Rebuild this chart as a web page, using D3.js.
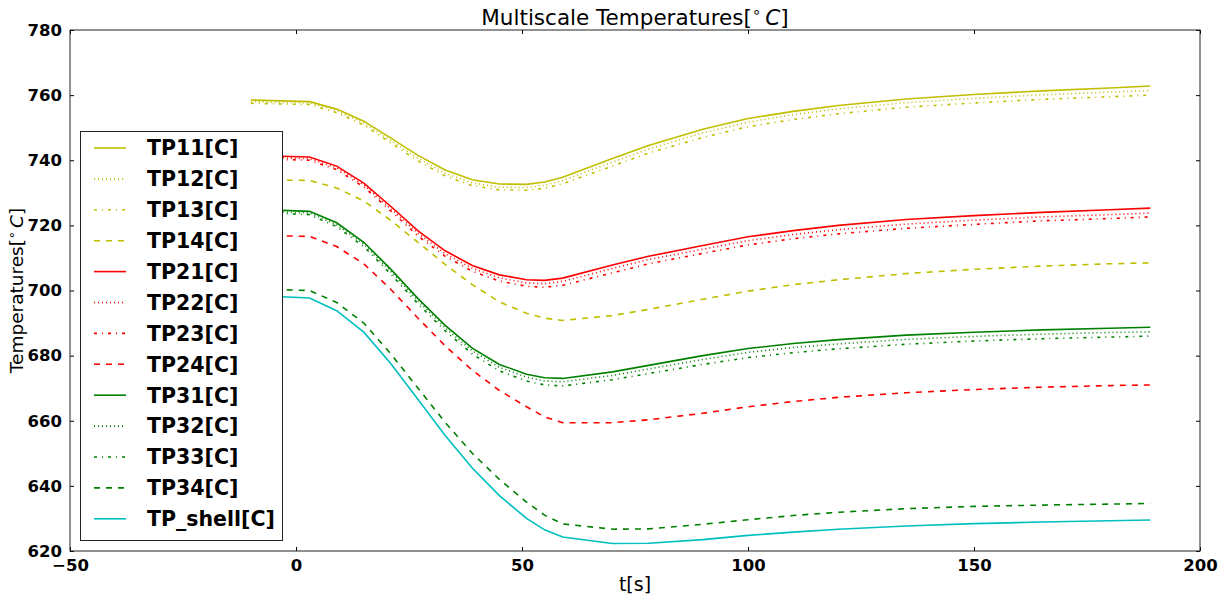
<!DOCTYPE html>
<html>
<head>
<meta charset="utf-8">
<script src="https://cdn.jsdelivr.net/npm/d3@7"></script>
<style>
  html, body { margin: 0; padding: 0; background: #fff; }
  svg { display: block; font-family: "DejaVu Sans", sans-serif; }
</style>
</head>
<body>
<svg id="chart" width="1226" height="597"></svg>
<script>
const times = [-10, 3, 9, 15, 21, 27, 33, 39, 45, 51, 55, 59, 70, 78, 90, 100, 110, 120, 135, 150, 165, 180, 189];

const TP11 = [758.5, 758, 755.7, 752, 746.8, 741.5, 737, 734, 732.7, 732.6, 733.3, 734.8, 740.5, 744.5, 749.5, 752.8, 755, 756.8, 758.8, 760.2, 761.3, 762.2, 762.8];
const TP12 = [758, 757.6, 755.2, 751.4, 746, 740.6, 736, 733, 731.7, 731.6, 732.3, 733.8, 739.4, 743.4, 748.4, 751.7, 754, 755.8, 757.7, 759, 760.1, 760.9, 761.4];
const TP13 = [757.5, 757.1, 754.6, 750.8, 745.3, 739.8, 735.2, 732.2, 730.9, 730.8, 731.4, 732.8, 738.2, 742.2, 747, 750.3, 752.5, 754.3, 756.3, 757.6, 758.7, 759.5, 760];
const TP14 = [734, 733.8, 731.5, 727.5, 721.5, 714.8, 708, 701.8, 696.5, 693, 691.5, 690.8, 692.3, 694.2, 697.3, 699.8, 701.8, 703.3, 705.2, 706.5, 707.5, 708.2, 708.5];
const TP21 = [741.5, 741, 738.2, 733, 725.8, 718.3, 712.2, 707.7, 704.8, 703.3, 703.1, 703.8, 707.8, 710.5, 713.8, 716.5, 718.4, 720, 721.8, 723, 724, 724.8, 725.3];
const TP22 = [741, 740.5, 737.7, 732.4, 725.1, 717.5, 711.3, 706.8, 703.9, 702.3, 702.1, 702.8, 706.8, 709.5, 712.7, 715.3, 717.2, 718.7, 720.4, 721.6, 722.6, 723.3, 723.8];
const TP23 = [740.5, 740, 737.1, 731.8, 724.4, 716.7, 710.5, 705.9, 702.9, 701.3, 701, 701.6, 705.4, 708.2, 711.4, 714, 715.9, 717.4, 719.1, 720.3, 721.4, 722.1, 722.6];
const TP24 = [717, 716.6, 713.5, 708.2, 700.3, 691.5, 683, 675.5, 669.3, 664.3, 661.2, 659.4, 659.4, 660.3, 662.3, 664.3, 665.9, 667.2, 668.6, 669.6, 670.3, 670.8, 671];
const TP31 = [725, 724.3, 720.8, 714.8, 706.5, 697.5, 689.3, 682.3, 677.3, 674.3, 673.2, 673, 675, 677, 680, 682.2, 683.7, 684.9, 686.3, 687.2, 687.9, 688.4, 688.7];
const TP32 = [724.5, 723.8, 720.2, 714.2, 705.8, 696.8, 688.5, 681.5, 676.4, 673.4, 672.2, 672, 673.9, 675.9, 678.8, 681, 682.5, 683.6, 685, 685.9, 686.6, 687.1, 687.3];
const TP33 = [724, 723.3, 719.6, 713.5, 705, 695.9, 687.6, 680.5, 675.3, 672.2, 671, 670.7, 672.6, 674.5, 677.3, 679.4, 680.9, 682.1, 683.5, 684.5, 685.2, 685.7, 686];
const TP34 = [700.5, 700, 696.3, 690, 680.5, 670, 659.5, 650, 642, 635, 631, 628.3, 626.7, 626.8, 628.2, 629.6, 630.9, 631.9, 633, 633.7, 634.1, 634.4, 634.6];
const TP_shell = [698.5, 697.7, 693.8, 687.2, 677.5, 666.5, 655.5, 645.5, 637, 630, 626.5, 624.3, 622.3, 622.4, 623.5, 624.8, 625.8, 626.7, 627.7, 628.4, 628.9, 629.3, 629.5];

const seriesNames = ["TP11[C]", "TP12[C]", "TP13[C]", "TP14[C]", "TP21[C]", "TP22[C]", "TP23[C]", "TP24[C]", "TP31[C]", "TP32[C]", "TP33[C]", "TP34[C]", "TP_shell[C]"];
const seriesValues = [TP11, TP12, TP13, TP14, TP21, TP22, TP23, TP24, TP31, TP32, TP33, TP34, TP_shell];
const seriesColors = ["#bfbf00", "#bfbf00", "#bfbf00", "#bfbf00", "#ff0000", "#ff0000", "#ff0000", "#ff0000", "#008000", "#008000", "#008000", "#008000", "#00bfbf"];
const seriesStyles = ["solid", "dotted", "dashdot", "dashed", "solid", "dotted", "dashdot", "dashed", "solid", "dotted", "dashdot", "dashed", "solid"];

const xTicks = [-50, 0, 50, 100, 150, 200];
const yTicks = [620, 640, 660, 680, 700, 720, 740, 760, 780];

const dashMap = { solid: null, dotted: "1,3", dashdot: "3,5,1,5", dashed: "6,6" };

const svg = d3.select("#chart");
const L = 70, R = 1200, T = 30, B = 551;

const x = d3.scaleLinear().domain([-50, 200]).range([L, R]);
const y = d3.scaleLinear().domain([620, 780]).range([B, T]);

svg.append("defs").append("clipPath").attr("id", "clip")
  .append("rect").attr("x", L).attr("y", T).attr("width", R - L).attr("height", B - T);

const line = d3.line().x(d => x(d[0])).y(d => y(d[1]));

const plot = svg.append("g").attr("clip-path", "url(#clip)");
seriesValues.forEach((vals, i) => {
  plot.append("path")
    .datum(times.map((t, j) => [t, vals[j]]))
    .attr("d", line)
    .attr("fill", "none")
    .attr("stroke", seriesColors[i])
    .attr("stroke-width", 1.6)
    .attr("stroke-dasharray", dashMap[seriesStyles[i]]);
});

const fmt = d => (d < 0 ? "\u2212" + Math.abs(d) : String(d));
const axStyle = g => {
  g.select(".domain").remove();
  g.selectAll(".tick line").attr("stroke", "#000").attr("stroke-width", 1);
  g.selectAll(".tick text").attr("font-family", "DejaVu Sans").attr("font-weight", "bold").attr("font-size", 16.5).attr("fill", "#000");
};
svg.append("g").attr("transform", `translate(0,${B})`)
  .call(d3.axisBottom(x).tickValues(xTicks).tickFormat(fmt).tickSizeInner(-4).tickSizeOuter(0).tickPadding(8))
  .call(axStyle);
svg.append("g").attr("transform", `translate(0,${T})`)
  .call(d3.axisTop(x).tickValues(xTicks).tickFormat("").tickSizeInner(-4).tickSizeOuter(0))
  .call(axStyle);
svg.append("g").attr("transform", `translate(${L},0)`)
  .call(d3.axisLeft(y).tickValues(yTicks).tickFormat(fmt).tickSizeInner(-4).tickSizeOuter(0).tickPadding(8))
  .call(axStyle);
svg.append("g").attr("transform", `translate(${R},0)`)
  .call(d3.axisRight(y).tickValues(yTicks).tickFormat("").tickSizeInner(-4).tickSizeOuter(0))
  .call(axStyle);

svg.append("rect").attr("x", L).attr("y", T).attr("width", R - L).attr("height", B - T)
  .attr("fill", "none").attr("stroke", "#222").attr("stroke-width", 1);

const title = svg.append("text").attr("x", (L + R) / 2).attr("y", 25).attr("text-anchor", "middle")
  .attr("font-size", 21.5).attr("fill", "#000");
title.append("tspan").text("Multiscale Temperatures[");
title.append("tspan").attr("dy", -8).attr("font-size", 15).text("\u2218");
title.append("tspan").attr("dy", 8).attr("dx", 4).attr("font-style", "italic").text("C");
title.append("tspan").text("]");

svg.append("text").attr("x", (L + R) / 2).attr("y", 591).attr("text-anchor", "middle")
  .attr("font-size", 19).attr("fill", "#000").text("t[s]");

const yl = svg.append("text").attr("transform", `translate(23,${(T + B) / 2}) rotate(-90)`)
  .attr("text-anchor", "middle").attr("font-size", 18.5).attr("fill", "#000");
yl.append("tspan").text("Temperatures[");
yl.append("tspan").attr("dy", -7).attr("font-size", 13).text("\u2218");
yl.append("tspan").attr("dy", 7).attr("dx", 3).attr("font-style", "italic").text("C");
yl.append("tspan").text("]");

const lg = svg.append("g");
lg.append("rect").attr("x", 80.5).attr("y", 131.5).attr("width", 202).attr("height", 409)
  .attr("fill", "#fff").attr("stroke", "#222").attr("stroke-width", 1);
seriesNames.forEach((name, i) => {
  const yy = 148 + i * 30.9;
  lg.append("line").attr("x1", 94).attr("x2", 126).attr("y1", yy).attr("y2", yy)
    .attr("stroke", seriesColors[i]).attr("stroke-width", 1.6)
    .attr("stroke-dasharray", dashMap[seriesStyles[i]]);
  lg.append("text").attr("x", 147).attr("y", yy).attr("dy", "0.36em")
    .attr("font-size", 20.5).attr("font-weight", "bold").attr("fill", "#000").text(name);
});
</script>
</body>
</html>
